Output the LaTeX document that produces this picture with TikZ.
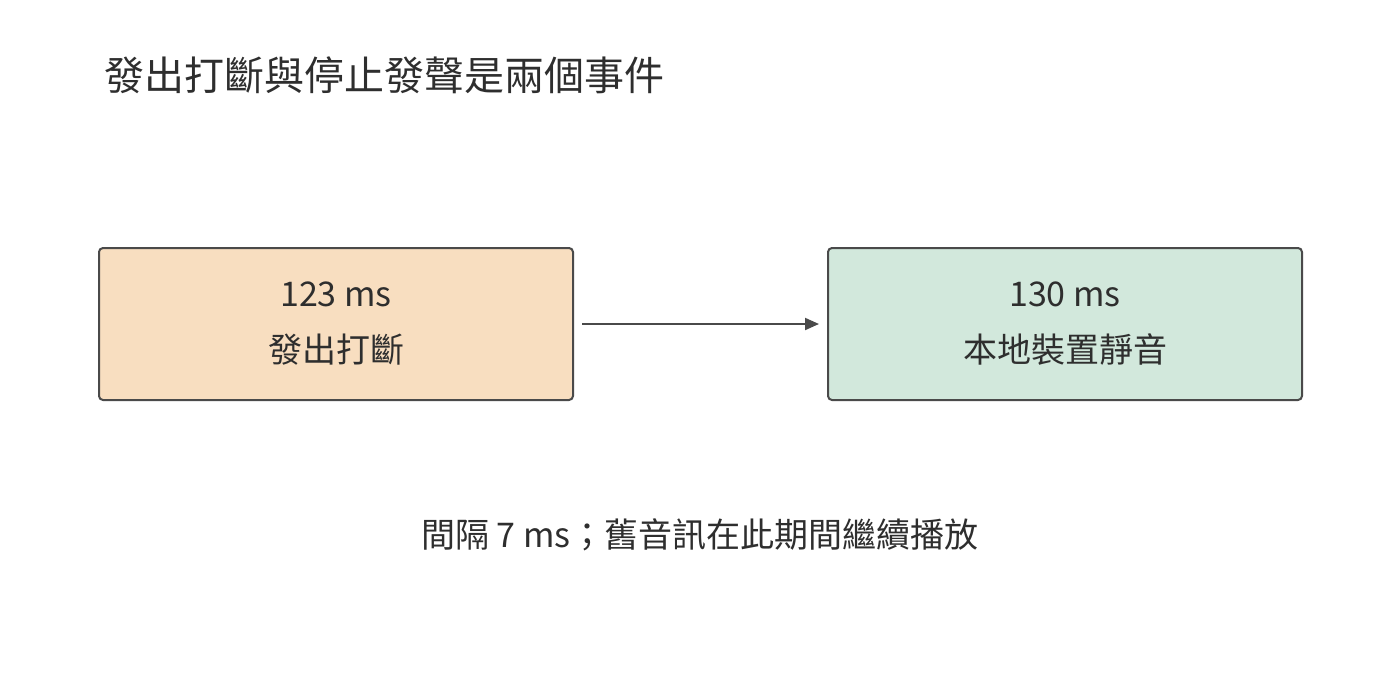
\documentclass[tikz,border=0pt]{standalone}
\usepackage{fontspec}
\setmainfont{Noto Sans CJK TC}
\usetikzlibrary{arrows.meta}
\definecolor{lbox}{HTML}{F8DEC0}
\definecolor{rbox}{HTML}{D2E8DC}
\definecolor{edge}{HTML}{4A4A4A}
\definecolor{txt}{HTML}{2E2E2E}
\begin{document}
\begin{tikzpicture}[x=1pt,y=-1pt,
  box/.style={draw=edge,line width=2pt,rounded corners=4pt,minimum width=474pt,minimum height=152pt,anchor=north west,align=center,text=txt,font=\fontsize{34}{56}\selectfont},
  lbl/.style={text=txt,inner sep=0pt}]
\useasboundingbox (0,0) rectangle (1400,672);
\node[lbl,anchor=west,font=\fontsize{40}{48}\selectfont] (title) at (104,75) {發出打斷與停止發聲是兩個事件};
\node[box,fill=lbox] (a) at (98,247) {123 ms\\發出打斷};
\node[box,fill=rbox] (b) at (827,247) {130 ms\\本地裝置靜音};
\draw[edge,line width=2pt,-{Triangle[length=14pt,width=12pt]}] ([xshift=8pt]a.east) -- ([xshift=-8pt]b.west);
\node[lbl,font=\fontsize{34}{40}\selectfont] (note) at (700,535) {間隔 7 ms；舊音訊在此期間繼續播放};
\end{tikzpicture}
\end{document}
